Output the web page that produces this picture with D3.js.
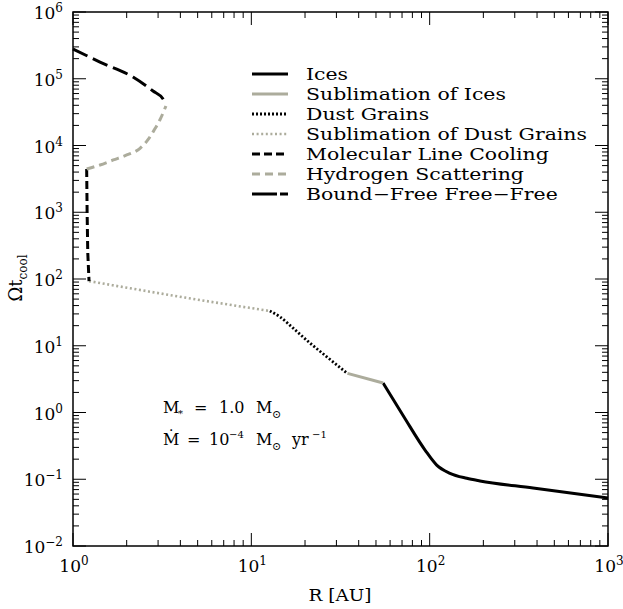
<!DOCTYPE html>
<html><head><meta charset="utf-8">
<script src="https://cdn.jsdelivr.net/npm/d3@7"></script>
<style>
body{margin:0;background:#fff;}
text{font-family:"DejaVu Serif",serif;fill:#000;}
</style></head>
<body><svg id="c" width="623" height="609"></svg>
<script>
// ---- data ----
const xTickPowers = [0, 1, 2, 3];
const yTickPowers = [-2, -1, 0, 1, 2, 3, 4, 5, 6];

const icesR = [54.8, 71.8, 94.2, 109.5, 130, 161.4, 191.5, 380, 1000];
const icesW = [2.77, 0.857, 0.274, 0.163, 0.1228, 0.1033, 0.0942, 0.074, 0.0524];

const subIcesR = [34.6, 54.8];
const subIcesW = [3.85, 2.77];

const dustR = [12.7, 14.5, 17.1, 21.3, 26.6, 34.6];
const dustW = [33.2, 27.0, 18.5, 11.0, 6.77, 3.85];

const subDustR = [1.23, 5.16, 12.7];
const subDustW = [93, 48.4, 33.2];

const molR = [1.193, 1.2, 1.21, 1.23];
const molW = [4450, 1000, 250, 93];

const hydR = [1.193, 1.417, 1.683, 2.0, 2.376, 2.62, 2.85, 3.1, 3.32];
const hydW = [4450, 5100, 6070, 7210, 9080, 12000, 17000, 25500, 39100];

const bffR = [1.0, 1.417, 2.17, 2.81, 3.2, 3.32];
const bffW = [279000, 178000, 106000, 65500, 49800, 41000];

const legendLabels = ["Ices", "Sublimation of Ices", "Dust Grains", "Sublimation of Dust Grains",
  "Molecular Line Cooling", "Hydrogen Scattering", "Bound\u2212Free Free\u2212Free"];

// ---- styles ----
const GRAY = "#acac9c";
const styles = [
  {c:"#000", w:3, d:null, curve:d3.curveMonotoneX},
  {c:GRAY, w:3, d:null, curve:d3.curveLinear},
  {c:"#000", w:2.8, d:"2,2", curve:d3.curveMonotoneX},
  {c:GRAY, w:2.6, d:"2,2.6", curve:d3.curveMonotoneX},
  {c:"#000", w:3, d:"8,4", curve:d3.curveLinear},
  {c:GRAY, w:3, d:"8,5", curve:d3.curveMonotoneX},
  {c:"#000", w:3, d:"16,6", curve:d3.curveMonotoneX}
];
const series = [[icesR,icesW],[subIcesR,subIcesW],[dustR,dustW],[subDustR,subDustW],[molR,molW],[hydR,hydW],[bffR,bffW]];

const svg = d3.select("#c");
const L=73, R=608, T=12, B=546;
const x = d3.scaleLog().domain([1,1000]).range([L,R]);
const y = d3.scaleLog().domain([1e-2,1e6]).range([B,T]);

// frame
svg.append("rect").attr("x",L).attr("y",T).attr("width",R-L).attr("height",B-T)
  .attr("fill","none").attr("stroke","#000").attr("stroke-width",1.5);

// ticks
const isMajor = v => Math.abs(Math.log10(v) - Math.round(Math.log10(v))) < 1e-6;
const tk = svg.append("g").attr("stroke","#000").attr("stroke-width",1);
x.ticks().forEach(v=>{
  const px = x(v), len = isMajor(v)?13:6;
  tk.append("line").attr("x1",px).attr("x2",px).attr("y1",B).attr("y2",B-len);
  tk.append("line").attr("x1",px).attr("x2",px).attr("y1",T).attr("y2",T+len);
});
y.ticks().forEach(v=>{
  const py = y(v), len = isMajor(v)?13:6;
  tk.append("line").attr("y1",py).attr("y2",py).attr("x1",L).attr("x2",L+len);
  tk.append("line").attr("y1",py).attr("y2",py).attr("x1",R).attr("x2",R-len);
});

// tick labels
function powLabel(g, p, px, py, anchor){
  const t = g.append("text").attr("x",px).attr("y",py).attr("text-anchor",anchor).attr("font-size",17);
  t.append("tspan").text("10");
  t.append("tspan").attr("dy",-7).attr("font-size",12).text(p<0 ? "\u2212"+(-p) : String(p));
}
xTickPowers.forEach(p=>powLabel(svg,p,x(Math.pow(10,p))+1,572,"middle"));
yTickPowers.forEach(p=>powLabel(svg,p,63,y(Math.pow(10,p))+7,"end"));

// axis titles
svg.append("text").attr("x",340).attr("y",601).attr("text-anchor","middle").attr("font-size",17)
  .attr("textLength",63).attr("lengthAdjust","spacingAndGlyphs").text("R [AU]");
const yl = svg.append("text").attr("transform","translate(22,278) rotate(-90)").attr("text-anchor","middle").attr("font-size",18);
yl.append("tspan").text("\u03A9t");
yl.append("tspan").attr("dy",5).attr("font-size",12).text("cool");

// curves
series.forEach((s,i)=>{
  const pts = s[0].map((r,j)=>[r,s[1][j]]);
  const st = styles[i];
  const line = d3.line().x(d=>x(d[0])).y(d=>y(d[1])).curve(st.curve);
  svg.append("path").attr("d",line(pts)).attr("fill","none").attr("stroke",st.c)
    .attr("stroke-width",st.w).attr("stroke-dasharray",st.d).attr("stroke-linejoin","round");
});

// legend
const legTexts = [];
legendLabels.forEach((lab,i)=>{
  const yy = 74 + i*20;
  const st = styles[i];
  svg.append("line").attr("x1",252).attr("x2",288).attr("y1",yy).attr("y2",yy)
    .attr("stroke",st.c).attr("stroke-width",st.w).attr("stroke-dasharray", i===6 ? "25,3" : st.d);
  legTexts.push(svg.append("text").attr("x",306).attr("y",yy+6).attr("font-size",17).text(lab));
});
const refW = legTexts[3].node().getComputedTextLength();
const k = 281 / refW;
legTexts.forEach(t=>{
  const w = t.node().getComputedTextLength();
  t.attr("textLength", w*k).attr("lengthAdjust","spacingAndGlyphs");
});

// annotation
function piece(txt, px, py, fs){
  svg.append("text").attr("x",px).attr("y",py).attr("font-size",fs).text(txt);
}
piece("M",163,413,16); piece("*",178,417,10); piece("=",194,413,16); piece("1.0",219,413,16);
piece("M",256,413,16); piece("\u2299",272,418,11);
piece("\u1E40",163,445,16); piece("=",187,445,16); piece("10",209,445,16); piece("\u22124",229,438,10);
piece("M",256,445,16); piece("\u2299",272,450,11); piece("yr",292,445,16); piece("\u22121",312,438,10);
</script></body></html>
